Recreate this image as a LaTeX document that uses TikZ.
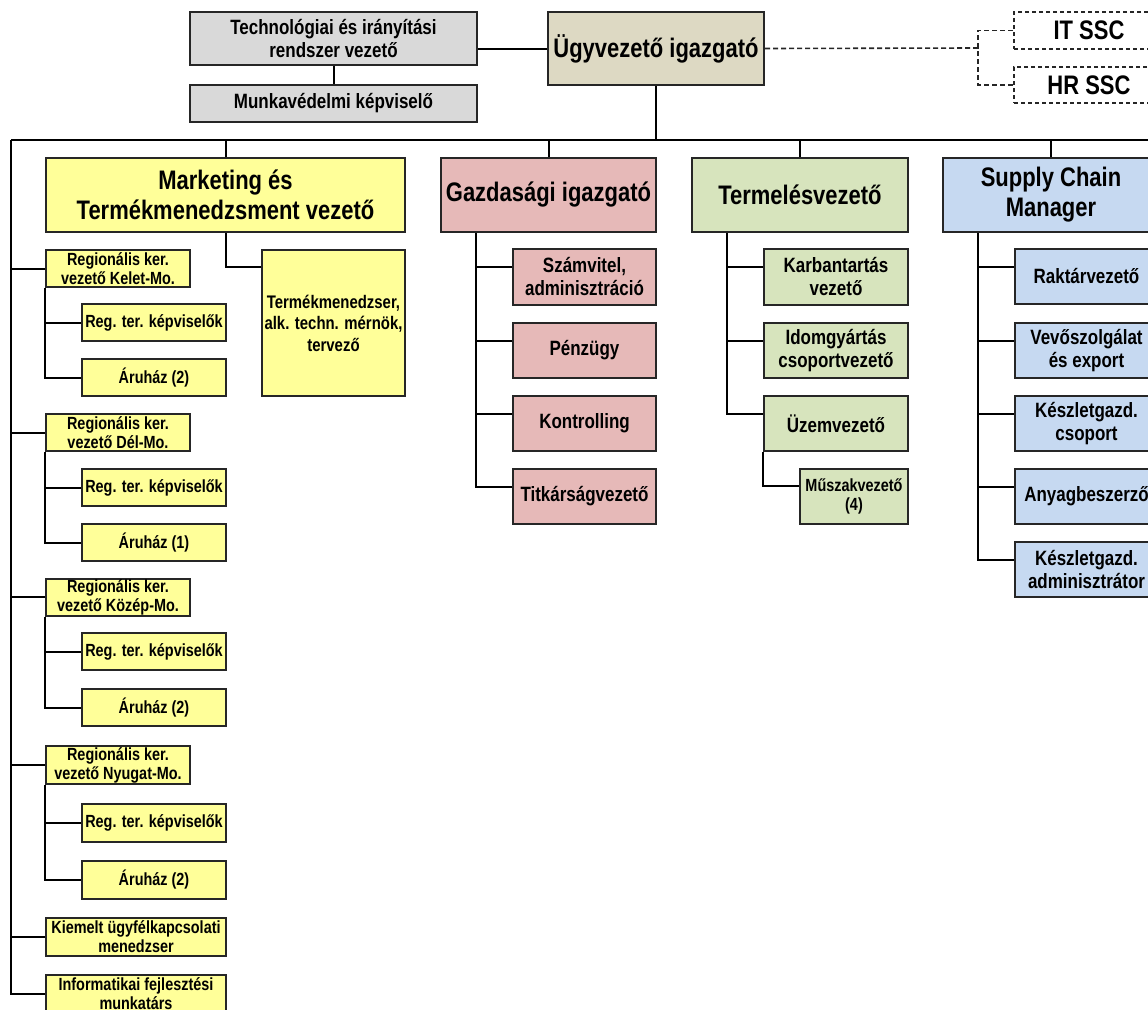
\documentclass[tikz,border=0pt]{standalone}
\usepackage{fontspec}
\setmainfont{Liberation Sans}[FakeStretch=0.82]
\definecolor{boxline}{HTML}{262626}
\definecolor{cgray}{HTML}{D9D9D9}
\definecolor{ctan}{HTML}{DDD9C3}
\definecolor{cyel}{HTML}{FFFF99}
\definecolor{cpink}{HTML}{E6B9B8}
\definecolor{cgreen}{HTML}{D7E4BD}
\definecolor{cblue}{HTML}{C6D9F1}
\begin{document}
\begin{tikzpicture}[x=1pt,y=-1pt,
  box/.style={draw=boxline, line width=2pt, inner sep=0pt, align=center},
  sz/.style 2 args={minimum width=#1, minimum height=#2},
  fbig/.style={font=\fontsize{26.8}{30}\selectfont\bfseries},
  fmid/.style={font=\fontsize{20.7}{23}\selectfont\bfseries},
  fsm/.style={font=\fontsize{17.6}{19}\selectfont\bfseries},
  ftm/.style={font=\fontsize{18.2}{21.5}\selectfont\bfseries},
  gbox/.style={box, fill=cgray},
  tbox/.style={box, fill=ctan},
  ybox/.style={box, fill=cyel},
  rbox/.style={ybox, text depth=6pt},
  pbox/.style={box, fill=cpink},
  grbox/.style={box, fill=cgreen},
  bbox/.style={box, fill=cblue},
  dbox/.style={box, fill=white, dash pattern=on 4pt off 3pt, line width=1.6pt},
  conn/.style={draw=black, line width=2pt},
  dconn/.style={draw=boxline, line width=1.6pt, dash pattern=on 5pt off 3pt}
]
\path[use as bounding box] (0,0) rectangle (1148,1009);
\clip (0,0) rectangle (1148,1009);

% top level
\node[gbox, sz={287}{53}, fmid] (tech) at (333.5,38.5) {Technológiai és irányítási\\rendszer vezető};
\node[gbox, sz={287}{37}, fmid] (munka) at (333.5,103.5) {Munkavédelmi képviselő};
\node[tbox, sz={216}{73}, fbig] (ceo) at (656,48.5) {Ügyvezető igazgató};
\node[dbox, sz={150}{37}, fbig] (itssc) at (1089,30.5) {IT SSC};
\node[dbox, sz={150}{36}, fbig] (hrssc) at (1089,85) {HR SSC};

% directors
\node[ybox, sz={359}{74}, fbig] (mkt) at (225.5,195) {Marketing és\\Termékmenedzsment vezető};
\node[pbox, sz={215}{74}, fbig] (gazd) at (548.5,195) {Gazdasági igazgató};
\node[grbox, sz={216}{74}, fbig] (term) at (800,195) {Termelésvezető};
\node[bbox, sz={216}{74}, fbig] (scm) at (1051,195) {Supply Chain\\Manager};

% marketing branch
\node[ybox, sz={143}{146}, ftm] (tm) at (333.5,323) {Termékmenedzser,\\alk. techn. mérnök,\\tervező};

\node[ybox, sz={144}{37}, fsm] (rk) at (118,268.5) {Regionális ker.\\vezető Kelet-Mo.};
\node[ybox, sz={144}{37}, fsm] (rk1) at (154,322.5) {Reg. ter. képviselők};
\node[ybox, sz={144}{37}, fsm] (rk2) at (154,377.5) {Áruház (2)};

\node[ybox, sz={144}{37}, fsm] (rd) at (118,432.5) {Regionális ker.\\vezető Dél-Mo.};
\node[ybox, sz={144}{37}, fsm] (rd1) at (154,487.5) {Reg. ter. képviselők};
\node[ybox, sz={144}{37}, fsm] (rd2) at (154,542.5) {Áruház (1)};

\node[ybox, sz={144}{37}, fsm] (rkz) at (118,597) {Regionális ker.\\vezető Közép-Mo.};
\node[ybox, sz={144}{37}, fsm] (rkz1) at (154,651.5) {Reg. ter. képviselők};
\node[ybox, sz={144}{37}, fsm] (rkz2) at (154,707.5) {Áruház (2)};

\node[ybox, sz={144}{38}, fsm] (rn) at (118,765) {Regionális ker.\\vezető Nyugat-Mo.};
\node[ybox, sz={144}{38}, fsm] (rn1) at (154,822.5) {Reg. ter. képviselők};
\node[ybox, sz={144}{38}, fsm] (rn2) at (154,880) {Áruház (2)};

\node[ybox, sz={180}{38}, fsm] (kiem) at (136,937) {Kiemelt ügyfélkapcsolati\\menedzser};
\node[ybox, sz={180}{38}, fsm] (info) at (136,994) {Informatikai fejlesztési\\munkatárs};

% gazdasagi branch
\node[pbox, sz={143}{56}, fmid] (szam) at (584.5,277) {Számvitel,\\adminisztráció};
\node[pbox, sz={143}{55}, fmid] (penz) at (584.5,350.5) {Pénzügy};
\node[pbox, sz={143}{55}, fmid] (kontr) at (584.5,423.5) {Kontrolling};
\node[pbox, sz={143}{55}, fmid] (titk) at (584.5,496.5) {Titkárságvezető};

% termeles branch
\node[grbox, sz={144}{56}, fmid] (karb) at (836,277) {Karbantartás\\vezető};
\node[grbox, sz={144}{55}, fmid] (idom) at (836,350.5) {Idomgyártás\\csoportvezető};
\node[grbox, sz={144}{55}, fmid] (uzem) at (836,423.5) {Üzemvezető};
\node[grbox, sz={108}{55}, fsm] (musz) at (854,496.5) {Műszakvezető\\(4)};

% scm branch
\node[bbox, sz={143}{55}, fmid] (rakt) at (1086.5,276.5) {Raktárvezető};
\node[bbox, sz={143}{55}, fmid] (vevo) at (1086.5,350.5) {Vevőszolgálat\\és export};
\node[bbox, sz={143}{55}, fmid] (keszl) at (1086.5,423.5) {Készletgazd.\\csoport};
\node[bbox, sz={143}{55}, fmid] (anyag) at (1086.5,496.5) {Anyagbeszerző};
\node[bbox, sz={143}{55}, fmid] (kadm) at (1086.5,569.5) {Készletgazd.\\adminisztrátor};

% coordinates
\coordinate (busl) at (11,140);
\coordinate (busr) at (1148,140);
\coordinate (sscbus) at (978,48);

% connectors
\draw[conn] (tech.south) -- (munka.north);
\draw[conn] (ceo.west) -- (ceo.west -| tech.east);
\draw[dconn] (ceo.east) -- (sscbus);
\draw[dconn] (itssc.west) -| (sscbus) |- (hrssc.west);

\draw[conn] (ceo.south) -- (ceo.south |- busl);
\draw[conn] (busl) -- (busr);
\draw[conn] (mkt.north) -- (mkt.north |- busl);
\draw[conn] (gazd.north) -- (gazd.north |- busl);
\draw[conn] (term.north) -- (term.north |- busl);
\draw[conn] (scm.north) -- (scm.north |- busl);

% left spine
\draw[conn] (busl) |- (info.west);
\foreach \n in {rk,rd,rkz,rn,kiem} \draw[conn] (\n.west) -- (\n.west -| busl);
\foreach \p in {rk,rd,rkz,rn} {
  \draw[conn] (\p.south west) |- (\p2.west);
  \draw[conn] (\p1.west) -- (\p1.west -| \p.south west);
}
\draw[conn] (mkt.south) |- ([yshift=-18pt]tm.north west);

% gazdasagi
\draw[conn] ([xshift=36pt]gazd.south west) |- ([yshift=-18.5pt]titk.north west);
\foreach \n in {szam,penz,kontr}
  \draw[conn] ([yshift=-18.5pt]\n.north west) -- ++(-36pt,0);

% termeles
\draw[conn] ([xshift=36pt]term.south west) |- ([yshift=-18.5pt]uzem.north west);
\foreach \n in {karb,idom}
  \draw[conn] ([yshift=-18.5pt]\n.north west) -- ++(-36pt,0);
\draw[conn] (uzem.south west) |- ([yshift=-18pt]musz.north west);

% scm
\draw[conn] ([xshift=36pt]scm.south west) |- ([yshift=-18.5pt]kadm.north west);
\foreach \n in {rakt,vevo,keszl,anyag}
  \draw[conn] ([yshift=-18.5pt]\n.north west) -- ++(-36pt,0);
\end{tikzpicture}
\end{document}
